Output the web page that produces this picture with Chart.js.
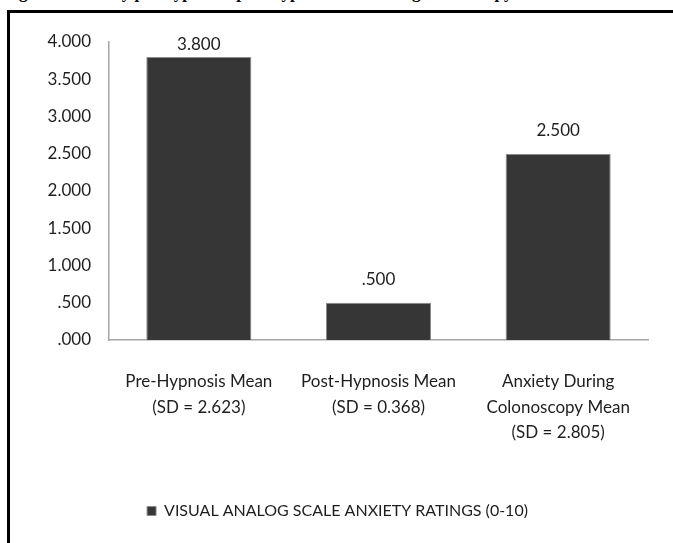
<!DOCTYPE html>
<html>
<head>
<meta charset="utf-8">
<script src="https://cdn.jsdelivr.net/npm/chart.js@4"></script>
<style>
  html, body { margin: 0; padding: 0; background: #fff; }
  body { width: 673px; height: 543px; position: relative; overflow: hidden; }
  #caption { position: absolute; left: 4px; top: -17.5px; font: bold 17px "Liberation Serif", serif; color: #000; white-space: nowrap; }
  #frame { position: absolute; left: 7px; top: 10px; width: 700px; height: 600px; border-top: 3px solid #000; border-left: 3px solid #000; }
  #chart { position: absolute; left: 0; top: 0; }
</style>
</head>
<body>
<div id="caption">Figure 1: Anxiety pre-hypnosis, post-hypnosis and during colonoscopy</div>
<div id="frame"></div>
<canvas id="chart" width="673" height="543"></canvas>
<script>
// data
const categories = [
    ["Pre-Hypnosis Mean", "(SD = 2.623)"],
    ["Post-Hypnosis Mean", "(SD = 0.368)"],
    ["Anxiety During", "Colonoscopy Mean", "(SD = 2.805)"]
];
const anxietyMeans = [3.8, 0.5, 2.5];
const seriesName = "VISUAL ANALOG SCALE ANXIETY RATINGS (0-10)";

const font = "Lato";
const textColor = "#1e1e1e";

// "3.800" style numbers, leading zero dropped like the original
function fmt(v) {
    let s = v.toFixed(3);
    return s.startsWith("0") ? s.slice(1) : s;
}

const barLabels = {
    id: 'barLabels',
    afterDatasetsDraw(chart) {
        const ctx = chart.ctx;
        const meta = chart.getDatasetMeta(0);
        ctx.save();
        ctx.font = "17px " + font;
        ctx.fillStyle = textColor;
        ctx.textAlign = "center";
        ctx.textBaseline = "middle";
        meta.data.forEach((bar, i) => {
            const y = Math.max(bar.y - 23, chart.chartArea.top + 3);
            ctx.fillText(fmt(anxietyMeans[i]), bar.x, y);
        });
        ctx.restore();
    }
};

new Chart(document.getElementById('chart'), {
    type: 'bar',
    data: {
        labels: categories,
        datasets: [{
            label: seriesName,
            data: anxietyMeans,
            backgroundColor: '#363636',
            borderColor: '#8c8c8c',
            borderWidth: 1,
            categoryPercentage: 1,
            barPercentage: 0.585
        }]
    },
    options: {
        responsive: false,
        animation: false,
        layout: { padding: { left: 27, right: 25, top: 42, bottom: 14 } },
        scales: {
            x: {
                grid: { display: false, drawTicks: false },
                border: { color: '#a6a6a6', width: 1.5 },
                ticks: {
                    color: textColor,
                    font: { family: font, size: 17, lineHeight: 1.5 },
                    padding: 29,
                    maxRotation: 0,
                    autoSkip: false
                },
                afterFit(s) { s.height = 153; }
            },
            y: {
                min: 0,
                max: 4,
                grid: { display: false, drawTicks: false },
                border: { color: '#a6a6a6', width: 1.5 },
                ticks: {
                    stepSize: 0.5,
                    color: textColor,
                    font: { family: font, size: 17 },
                    padding: 18,
                    callback: v => fmt(v)
                },
                afterFit(s) { s.width = 82; }
            }
        },
        plugins: {
            tooltip: { enabled: false },
            legend: {
                position: 'bottom',
                labels: {
                    color: textColor,
                    font: { family: font, size: 16 },
                    boxWidth: 9,
                    boxHeight: 9,
                    padding: 10
                }
            }
        }
    },
    plugins: [barLabels]
});
</script>
</body>
</html>
